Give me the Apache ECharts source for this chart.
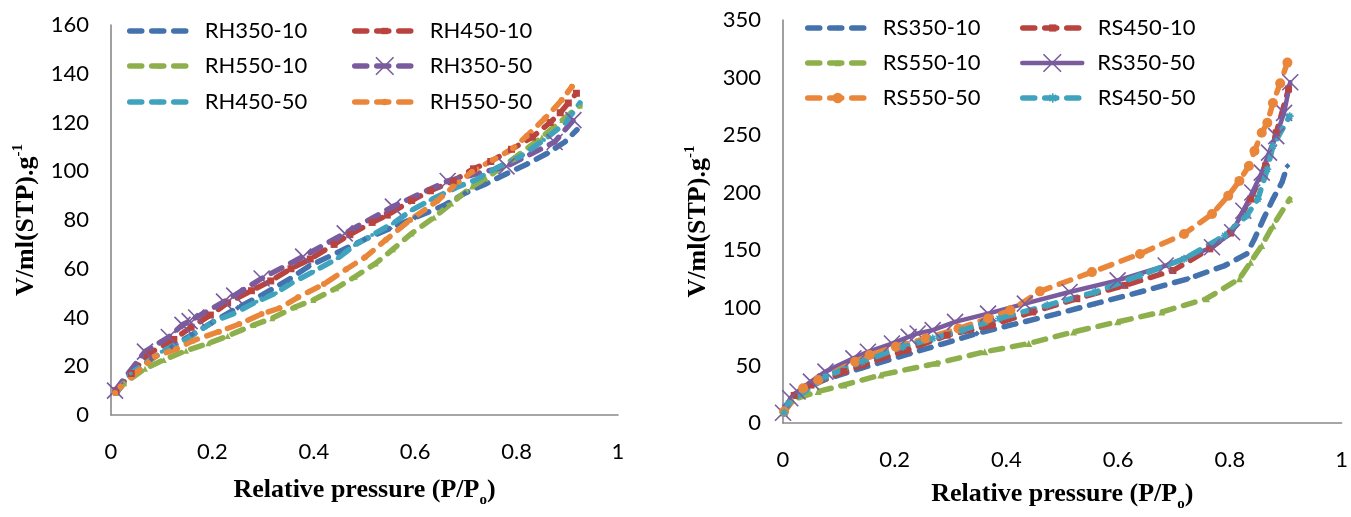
<!DOCTYPE html>
<html>
<head>
<meta charset="utf-8">
<script src="https://cdn.jsdelivr.net/npm/echarts@6/dist/echarts.min.js"></script>
<style>
html,body{margin:0;padding:0;background:#fff;}
#chart{width:1351px;height:517px;}
</style>
</head>
<body>
<div id="chart"></div>
<script>
// ---------- Left chart (RH) data: [P/Po, V] ----------
const rh350_10 = [[0.01,9],[0.04,17],[0.08,23],[0.12,28],[0.16,33],[0.2,38],[0.25,44],[0.3,49.5],[0.35,55.5],[0.39,61],[0.45,67],[0.5,72],[0.55,76.5],[0.6,81],[0.657,86],[0.698,91],[0.739,94.8],[0.78,99],[0.821,103],[0.861,107.4],[0.895,112],[0.919,117]];
const rh450_10 = [[0.01,10],[0.04,17],[0.073,25],[0.124,31],[0.158,36],[0.196,41],[0.23,46],[0.277,51],[0.315,55],[0.355,60],[0.393,64],[0.44,70],[0.471,74],[0.515,79],[0.545,82],[0.593,88],[0.63,92],[0.675,96],[0.715,101],[0.749,104],[0.79,109],[0.831,114],[0.866,120],[0.886,124],[0.902,128],[0.918,132]];
const rh550_10 = [[0.01,9],[0.026,13],[0.067,19],[0.104,22.6],[0.148,26.4],[0.192,29.4],[0.23,32.4],[0.281,36.9],[0.318,39.7],[0.362,44.2],[0.399,47.2],[0.444,52],[0.481,56.7],[0.522,62.2],[0.556,68],[0.593,74.5],[0.637,81],[0.671,86.8],[0.712,93.7],[0.739,97],[0.793,105],[0.85,114],[0.89,121],[0.925,127]];
const rh350_50 = [[0.008,10],[0.067,26],[0.114,32],[0.141,37],[0.155,38.5],[0.168,40],[0.223,46.5],[0.243,49],[0.297,56],[0.379,65],[0.461,74.5],[0.556,85.5],[0.664,96],[0.78,102],[0.875,112],[0.912,121]];
const rh450_50 = [[0.01,9],[0.039,17],[0.1,26],[0.148,31],[0.182,35.6],[0.202,38.3],[0.243,41.7],[0.287,46.5],[0.325,50],[0.355,54],[0.399,58.8],[0.447,64.3],[0.481,69.7],[0.515,73.8],[0.556,78.6],[0.593,84],[0.63,88.2],[0.685,93.7],[0.719,96.4],[0.759,101.2],[0.807,106],[0.854,112.8],[0.895,119.6],[0.925,128]];
const rh550_50 = [[0.008,9],[0.019,11.6],[0.053,18],[0.087,24],[0.128,27],[0.162,30.5],[0.213,34.2],[0.253,37.3],[0.297,41.4],[0.332,43.8],[0.369,48.3],[0.42,53.7],[0.464,59.8],[0.501,64.7],[0.542,71.8],[0.59,80],[0.644,87.9],[0.675,93.7],[0.712,99.8],[0.753,104.6],[0.793,109.4],[0.82,114.5],[0.856,121.7],[0.889,129.2],[0.909,134.7]];

// ---------- Right chart (RS) data ----------
const rs350_10 = [[0.002,9],[0.02,25],[0.076,38],[0.142,48],[0.228,60.5],[0.288,69.1],[0.347,77.8],[0.407,85],[0.48,93.6],[0.559,103.7],[0.639,113.8],[0.725,125.3],[0.791,136.8],[0.83,146.9],[0.844,159.9],[0.86,177.2],[0.877,194.5],[0.893,208.9],[0.903,223.3]];
const rs450_10 = [[0.002,9],[0.02,24],[0.05,33],[0.109,44.7],[0.142,50.4],[0.222,63.4],[0.294,76.3],[0.374,85],[0.447,96.5],[0.526,108],[0.612,119.6],[0.698,132.5],[0.764,151.3],[0.801,165],[0.837,194.5],[0.864,223.3],[0.883,252],[0.905,290]];
const rs550_10 = [[0.002,9],[0.016,20.2],[0.063,27.4],[0.109,33.1],[0.175,41.8],[0.275,51.9],[0.361,61.9],[0.44,69.1],[0.52,79.2],[0.599,87.9],[0.678,96.5],[0.758,108],[0.817,125.3],[0.837,139.7],[0.857,154.1],[0.877,171.4],[0.907,194.5]];
const rs350_50 = [[0.0,9],[0.013,21.6],[0.026,27.4],[0.05,36],[0.076,44.7],[0.126,56.2],[0.152,61.9],[0.195,69.1],[0.225,74.9],[0.241,77.8],[0.268,80.7],[0.308,87.9],[0.367,95.1],[0.433,103.7],[0.513,113.8],[0.599,123.9],[0.685,136.8],[0.768,152.7],[0.804,165.7],[0.824,184.4],[0.84,200.2],[0.857,217.5],[0.87,234.8],[0.883,249.2],[0.897,269.4],[0.908,296]];
const rs550_50 = [[0.002,10],[0.036,30.3],[0.063,37.5],[0.129,53.3],[0.155,59.1],[0.202,66.3],[0.255,73.5],[0.314,82.1],[0.367,90.8],[0.407,97.9],[0.46,114.4],[0.553,131.1],[0.639,146.9],[0.718,164.2],[0.768,181.5],[0.797,197.3],[0.817,210.3],[0.834,223.3],[0.844,236.2],[0.857,252.1],[0.867,260.7],[0.877,278],[0.89,295],[0.903,313]];
const rs450_50 = [[0.002,9],[0.01,17.3],[0.076,40.3],[0.142,53.3],[0.215,66.3],[0.268,73.5],[0.321,80.7],[0.387,90.8],[0.473,102.3],[0.559,113.8],[0.639,128.2],[0.718,142.6],[0.791,162.8],[0.83,180],[0.85,194.5],[0.867,220.4],[0.877,240.6],[0.907,266.5]];

// ---------- Names, axes ----------
const namesLeft  = ['RH350-10','RH450-10','RH550-10','RH350-50','RH450-50','RH550-50'];
const namesRight = ['RS350-10','RS450-10','RS550-10','RS350-50','RS550-50','RS450-50'];
const xTicks = [0, 0.2, 0.4, 0.6, 0.8, 1];
const yTicksLeft = [0, 20, 40, 60, 80, 100, 120, 140, 160];
const yTicksRight = [0, 50, 100, 150, 200, 250, 300, 350];

const C = {blue:'#4472AD', red:'#B9433F', green:'#8EB04C', purple:'#7A5C9E', cyan:'#3FA3BD', orange:'#EA863A'};
const X_PATH = 'path://M0,0L10,10M10,0L0,10';
const STAR_PATH = 'path://M5,0L5,10M0,5L10,5M1.6,1.6L8.4,8.4M8.4,1.6L1.6,8.4';
const LABEL_FONT = 'Lato';
const SERIF = 'Liberation Serif';
const DASH = [12, 10];
const LW = 5.5;

function mk(name, data, color, idx, symbol, size, dashed, stroke) {
  return {
    type: 'line', name: name, data: data,
    xAxisIndex: idx, yAxisIndex: idx,
    symbol: symbol, symbolSize: size, showSymbol: true,
    lineStyle: {color: color, width: dashed ? LW : 4.5, type: dashed ? DASH : 'solid', cap: 'round', join: 'round'},
    itemStyle: stroke ? {color: color, borderColor: color, borderWidth: 1.6}
                      : {color: color, borderColor: color, borderWidth: 0},
    emphasis: {disabled: true},
    animation: false
  };
}

const series = [
  mk(namesLeft[0], rh350_10, C.blue,   0, 'diamond', 6, true, false),
  mk(namesLeft[1], rh450_10, C.red,    0, 'rect', 7, true, false),
  mk(namesLeft[2], rh550_10, C.green,  0, 'triangle', 6, true, false),
  mk(namesLeft[3], rh350_50, C.purple, 0, X_PATH, 16, true, true),
  mk(namesLeft[4], rh450_50, C.cyan,   0, 'circle', 4, true, false),
  mk(namesLeft[5], rh550_50, C.orange, 0, 'circle', 6, true, false),
  mk(namesRight[0], rs350_10, C.blue,   1, 'diamond', 6, true, false),
  mk(namesRight[1], rs450_10, C.red,    1, 'rect', 7, true, false),
  mk(namesRight[2], rs550_10, C.green,  1, 'triangle', 7, true, false),
  mk(namesRight[3], rs350_50, C.purple, 1, X_PATH, 16, false, true),
  mk(namesRight[4], rs550_50, C.orange, 1, 'circle', 10, true, false),
  mk(namesRight[5], rs450_50, C.cyan,   1, STAR_PATH, 8, true, true)
];

function leg(name, left, center, itemHeight, stroke, solid) {
  const o = {
    data: [name], left: left, top: center - 12, padding: 0,
    itemWidth: 60, itemHeight: itemHeight, selectedMode: false,
    lineStyle: {width: solid ? 4.5 : LW, type: solid ? 'solid' : DASH, cap: 'round'},
    textStyle: {fontFamily: LABEL_FONT, fontSize: 22, color: '#000', lineHeight: 24, padding: [0, 0, 0, 10]}
  };
  if (stroke) o.itemStyle = {borderWidth: 1.6};
  return o;
}

const legends = [
  leg(namesLeft[0], 127, 31, 7), leg(namesLeft[1], 352, 31, 8),
  leg(namesLeft[2], 127, 66, 7), leg(namesLeft[3], 352, 66, 22, true),
  leg(namesLeft[4], 127, 102, 6), leg(namesLeft[5], 352, 102, 8),
  leg(namesRight[0], 805, 28, 7), leg(namesRight[1], 1020, 28, 9),
  leg(namesRight[2], 805, 63, 8), leg(namesRight[3], 1020, 63, 22, true, true),
  leg(namesRight[4], 805, 98, 13), leg(namesRight[5], 1020, 98, 12, true)
];

const axisLineStyle = {show: true, onZero: false, lineStyle: {color: '#898989', width: 1.6}};
const tickLabel = {fontFamily: LABEL_FONT, fontSize: 22, color: '#000'};

function xAx(idx, gap) {
  return {
    type: 'value', gridIndex: idx, min: xTicks[0], max: xTicks[xTicks.length - 1], interval: xTicks[1] - xTicks[0],
    axisLine: axisLineStyle, axisTick: {show: false}, splitLine: {show: false},
    axisLabel: Object.assign({margin: 26}, tickLabel),
    name: 'Relative pressure (P/P{sub|o})', nameLocation: 'middle', nameGap: gap,
    nameTextStyle: {fontFamily: SERIF, fontWeight: 'bold', fontSize: 26, color: '#000', lineHeight: 30,
      rich: {sub: {fontFamily: SERIF, fontWeight: 'bold', fontSize: 15, color: '#000', verticalAlign: 'bottom', lineHeight: 36}}}
  };
}
function yAx(idx, ticks) {
  return {
    type: 'value', gridIndex: idx, min: ticks[0], max: ticks[ticks.length - 1], interval: ticks[1] - ticks[0],
    axisLine: axisLineStyle, axisTick: {show: false}, splitLine: {show: false},
    axisLabel: Object.assign({margin: 22}, tickLabel),
    name: 'V/ml(STP).g{sup|-1}', nameLocation: 'middle', nameRotate: 90, nameGap: 70,
    nameTextStyle: {fontFamily: SERIF, fontWeight: 'bold', fontSize: 26, color: '#000', lineHeight: 30,
      rich: {sup: {fontFamily: SERIF, fontWeight: 'bold', fontSize: 15, color: '#000', verticalAlign: 'top', lineHeight: 30}}}
  };
}

const chart = echarts.init(document.getElementById('chart'), null, {renderer: 'canvas'});
chart.setOption({
  backgroundColor: '#fff',
  animation: false,
  grid: [
    {left: 111, top: 25, width: 507, height: 390, containLabel: false},
    {left: 783, top: 20, width: 559, height: 405, containLabel: false}
  ],
  xAxis: [xAx(0, 57), xAx(1, 52)],
  yAxis: [yAx(0, yTicksLeft), yAx(1, yTicksRight)],
  legend: legends,
  series: series
});
</script>
</body>
</html>
